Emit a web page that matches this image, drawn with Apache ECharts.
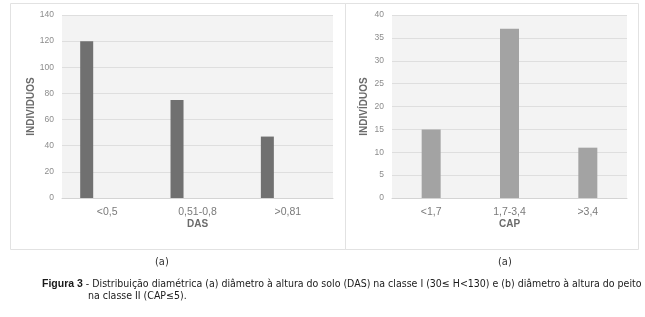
<!DOCTYPE html>
<html>
<head>
<meta charset="utf-8">
<script src="https://cdn.jsdelivr.net/npm/echarts@6/dist/echarts.min.js"></script>
<style>
  html, body { margin: 0; padding: 0; background: #fff; }
  #main { width: 645px; height: 317px; }
</style>
</head>
<body>
<div id="main"></div>
<script>
// dados
var dasCategories = ['<0,5', '0,51-0,8', '>0,81'];
var dasValues = [120, 75, 47];
var capCategories = ['<1,7', '1,7-3,4', '>3,4'];
var capValues = [15, 37, 11];

var chart = echarts.init(document.getElementById('main'));
var fontFam = 'Liberation Sans, Arial, sans-serif';

function yAxisOf(gridIndex, max, interval, name, gap) {
    return {
        gridIndex: gridIndex,
        type: 'value',
        min: 0,
        max: max,
        interval: interval,
        name: name,
        nameLocation: 'middle',
        nameGap: gap,
        nameMoveOverlap: false,
        nameTextStyle: { color: '#6b6b6b', fontSize: 10, fontWeight: 'bold', fontFamily: fontFam },
        axisLine: { show: false },
        axisTick: { show: false },
        axisLabel: { color: '#8c8c8c', fontSize: 8.5, margin: 8, fontFamily: fontFam },
        splitLine: { lineStyle: { color: '#dedede', width: 1 } }
    };
}

function xAxisOf(gridIndex, cats, name) {
    return {
        gridIndex: gridIndex,
        type: 'category',
        data: cats,
        name: name,
        nameLocation: 'middle',
        nameGap: 21,
        nameMoveOverlap: false,
        nameTextStyle: { color: '#6b6b6b', fontSize: 10, fontWeight: 'bold', fontFamily: fontFam },
        axisLine: { lineStyle: { color: '#d4d4d4' } },
        axisTick: { show: false },
        axisLabel: { color: '#7a7a7a', fontSize: 10.5, margin: 9, fontFamily: fontFam }
    };
}

chart.setOption({
    backgroundColor: '#ffffff',
    animation: false,
    grid: [
        { left: 62, top: 15, width: 271, height: 183, show: true, backgroundColor: '#f3f3f3', borderWidth: 0 },
        { left: 392, top: 15, width: 235, height: 183, show: true, backgroundColor: '#f3f3f3', borderWidth: 0 }
    ],
    xAxis: [xAxisOf(0, dasCategories, 'DAS'), xAxisOf(1, capCategories, 'CAP')],
    yAxis: [yAxisOf(0, 140, 20, 'INDIVIDUOS', 26), yAxisOf(1, 40, 5, 'INDIVÍDUOS', 23)],
    series: [
        {
            type: 'bar', xAxisIndex: 0, yAxisIndex: 0,
            data: dasValues, barWidth: 13, barGap: '215%',
            itemStyle: { color: '#707070' }
        },
        {
            // série vazia, como no gráfico original (barras deslocadas)
            type: 'bar', xAxisIndex: 0, yAxisIndex: 0,
            data: [], barWidth: 13
        },
        {
            type: 'bar', xAxisIndex: 1, yAxisIndex: 1,
            data: capValues, barWidth: 19,
            itemStyle: { color: '#a3a3a3' }
        }
    ],
    graphic: [
        { type: 'rect', shape: { x: 10.5, y: 3.5, width: 335, height: 246 }, style: { fill: 'none', stroke: '#e2e2e2', lineWidth: 1 }, silent: true },
        { type: 'rect', shape: { x: 345.5, y: 3.5, width: 293, height: 246 }, style: { fill: 'none', stroke: '#e2e2e2', lineWidth: 1 }, silent: true },
        { type: 'text', left: 155, top: 257, style: { text: '(a)', font: '11px "DejaVu Sans Condensed", sans-serif', fill: '#333' } },
        { type: 'text', left: 498, top: 257, style: { text: '(a)', font: '11px "DejaVu Sans Condensed", sans-serif', fill: '#333' } },
        {
            type: 'text', left: 42, top: 279,
            style: {
                text: '{b|Figura 3} - Distribuição diamétrica (a) diâmetro à altura do solo (DAS) na classe I (30≤ H<130) e (b) diâmetro à altura do peito',
                font: '10.5px "Liberation Sans Narrow", "DejaVu Sans Condensed", sans-serif',
                fill: '#1a1a1a',
                rich: { b: { fontWeight: 'bold', fontSize: 10.5, fill: '#1a1a1a' } }
            }
        },
        {
            type: 'text', left: 88, top: 291,
            style: { text: 'na classe II (CAP≤5).', font: '10.5px "Liberation Sans Narrow", "DejaVu Sans Condensed", sans-serif', fill: '#1a1a1a' }
        }
    ]
});
</script>
</body>
</html>
